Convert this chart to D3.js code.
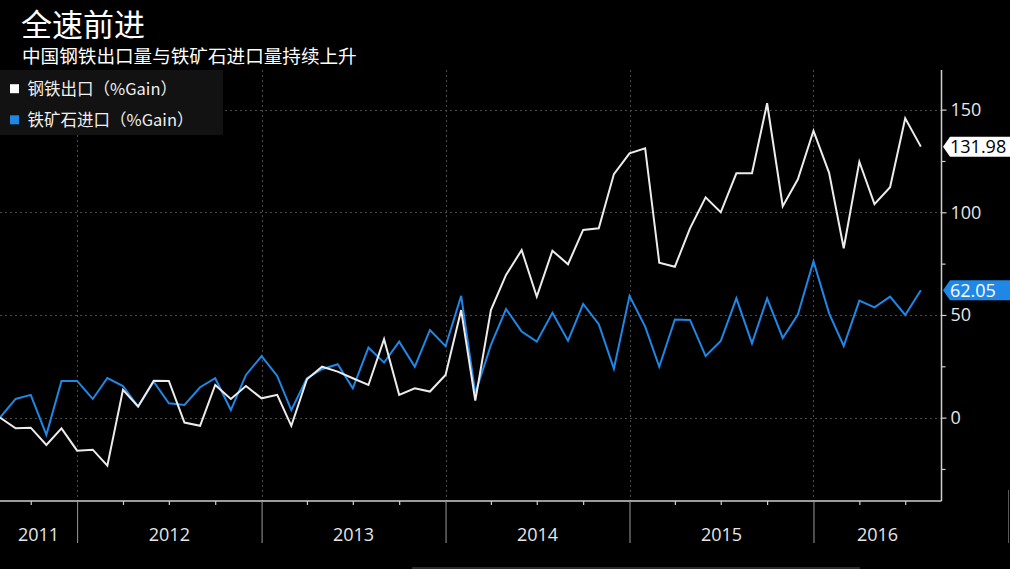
<!DOCTYPE html>
<html>
<head>
<meta charset="utf-8">
<script src="https://cdn.jsdelivr.net/npm/d3@7"></script>
<style>
  html, body { margin: 0; padding: 0; background: #000; }
  svg { display: block; }
  text { font-family: "Open Sans", "Noto Sans CJK SC", sans-serif; }
  .cjk { font-family: "Noto Sans CJK SC", "Open Sans", sans-serif; }
</style>
</head>
<body>
<svg id="chart" width="1010" height="569"></svg>
<script>
// ---------------- DATA ----------------
const title = "全速前进";
const subtitle = "中国钢铁出口量与铁矿石进口量持续上升";
const seriesNames = ["钢铁出口（%Gain）", "铁矿石进口（%Gain）"];

const months = [
  "2011-08","2011-09","2011-10","2011-11","2011-12",
  "2012-01","2012-02","2012-03","2012-04","2012-05","2012-06","2012-07","2012-08","2012-09","2012-10","2012-11","2012-12",
  "2013-01","2013-02","2013-03","2013-04","2013-05","2013-06","2013-07","2013-08","2013-09","2013-10","2013-11","2013-12",
  "2014-01","2014-02","2014-03","2014-04","2014-05","2014-06","2014-07","2014-08","2014-09","2014-10","2014-11","2014-12",
  "2015-01","2015-02","2015-03","2015-04","2015-05","2015-06","2015-07","2015-08","2015-09","2015-10","2015-11","2015-12",
  "2016-01","2016-02","2016-03","2016-04","2016-05","2016-06","2016-07","2016-08"
];

const steelExports = [
  0, -5.2, -4.9, -13.3, -5.2,
  -16.1, -15.6, -23.4, 13.5, 5.4, 18.0, 17.9, -2.4, -4.0, 15.9, 9.1, 15.4,
  9.4, 11.1, -4.0, 18.7, 24.8, 22.4, 19.2, 15.9, 38.2, 11.1, 14.3, 12.7,
  20.8, 52.4, 8.3, 52.4, 69.5, 81.6, 58.9, 81.3, 74.7, 91.4, 92.2, 118.6,
  128.7, 131.2, 75.5, 73.5, 92.2, 107.3, 100.0, 119.0, 119.0, 153.1, 103.0, 116.1,
  139.7, 119.2, 82.5, 124.6, 104.0, 112.2, 145.8, 131.98
];

const ironOreImports = [
  0, 9.1, 11.1, -8.4, 17.9,
  17.9, 9.1, 19.3, 15.4, 5.4, 17.5, 7.0, 6.2, 14.8, 19.2, 3.7, 20.8,
  30.0, 20.3, 3.7, 19.2, 23.6, 26.0, 14.3, 34.1, 26.8, 37.0, 24.8, 42.7,
  34.8, 59.3, 11.9, 35.4, 52.9, 41.9, 37.0, 51.1, 37.5, 55.4, 45.5, 23.8,
  59.3, 44.3, 24.8, 47.8, 47.6, 30.0, 37.3, 58.1, 36.2, 58.1, 38.8, 50.2,
  76.2, 50.8, 34.9, 57.0, 53.7, 58.9, 50.0, 62.05
];

const yTicksMajor = [0, 50, 100, 150];
const yTicksMinor = [-25, 25, 75, 125];
const yearLabels = ["2011", "2012", "2013", "2014", "2015", "2016"];

const colors = { steel: "#ececec", ore: "#1f87e6" };

// ---------------- LAYOUT ----------------
const svg = d3.select("#chart");
const W = 1010, H = 569;
const plot = { left: 0, right: 941.5, top: 70, bottom: 501 };

svg.append("rect").attr("width", W).attr("height", H).attr("fill", "#000");

const parse = d3.timeParse("%Y-%m");
const dates = months.map(parse);

const x = d3.scaleTime()
  .domain([parse("2011-08"), new Date(2016, 8, 11)])
  .range([plot.left, plot.right]);

const y = d3.scaleLinear()
  .domain([-40.6, 169.3])
  .range([plot.bottom, plot.top]);

// ---------------- GRID ----------------
const grid = svg.append("g").attr("stroke", "#4a4a4a").attr("stroke-width", 1)
  .attr("stroke-dasharray", "2,3");

grid.selectAll("line.h").data(yTicksMajor).join("line")
  .attr("x1", plot.left).attr("x2", plot.right)
  .attr("y1", d => Math.round(y(d)) + 0.5).attr("y2", d => Math.round(y(d)) + 0.5);

const yearStarts = d3.timeYear.range(new Date(2012, 0, 1), new Date(2017, 0, 1));
grid.selectAll("line.v").data(yearStarts).join("line")
  .attr("x1", d => Math.round(x(d)) + 0.5).attr("x2", d => Math.round(x(d)) + 0.5)
  .attr("y1", plot.top).attr("y2", plot.bottom);

// ---------------- LINES ----------------
const line = d3.line()
  .x((d, i) => x(dates[i]))
  .y(d => y(d));

svg.append("path").datum(ironOreImports)
  .attr("fill", "none").attr("stroke", colors.ore).attr("stroke-width", 2)
  .attr("stroke-linejoin", "miter").attr("d", line);

svg.append("path").datum(steelExports)
  .attr("fill", "none").attr("stroke", colors.steel).attr("stroke-width", 2)
  .attr("stroke-linejoin", "miter").attr("d", line);

// ---------------- RIGHT AXIS ----------------
const axisColor = "#cfcfcf";
svg.append("line")
  .attr("x1", plot.right).attr("x2", plot.right)
  .attr("y1", plot.top).attr("y2", plot.bottom)
  .attr("stroke", axisColor).attr("stroke-width", 1.5);

const yAxis = d3.axisRight(y).tickValues(yTicksMajor).tickSize(5).tickPadding(4)
  .tickFormat(d3.format("d"));
const yAxisG = svg.append("g").attr("transform", `translate(${plot.right},0)`).call(yAxis);
yAxisG.select(".domain").remove();
yAxisG.selectAll(".tick line").attr("stroke", axisColor).attr("stroke-width", 1.2);
yAxisG.selectAll(".tick text").attr("fill", "#e6e6e6").attr("font-size", 18)
  .attr("font-family", "'Open Sans', sans-serif");

const yMinor = d3.axisRight(y).tickValues(yTicksMinor).tickSize(4).tickFormat("");
const yMinorG = svg.append("g").attr("transform", `translate(${plot.right},0)`).call(yMinor);
yMinorG.select(".domain").remove();
yMinorG.selectAll(".tick line").attr("stroke", axisColor).attr("stroke-width", 1.2);

// ---------------- BOTTOM AXIS ----------------
svg.append("line")
  .attr("x1", 0).attr("x2", plot.right)
  .attr("y1", plot.bottom).attr("y2", plot.bottom)
  .attr("stroke", axisColor).attr("stroke-width", 1.5);

const quarterTicks = d3.timeMonth.every(3).range(new Date(2011, 9, 1), new Date(2016, 9, 1))
  .filter(d => d.getMonth() !== 0);
const xq = d3.axisBottom(x).tickValues(quarterTicks).tickSize(4).tickFormat("");
const xqG = svg.append("g").attr("transform", `translate(0,${plot.bottom})`).call(xq);
xqG.select(".domain").remove();
xqG.selectAll(".tick line").attr("stroke", axisColor).attr("stroke-width", 1.2);

const xy = d3.axisBottom(x).tickValues(yearStarts.filter(d => x(d) < plot.right))
  .tickSize(42).tickFormat("");
const xyG = svg.append("g").attr("transform", `translate(0,${plot.bottom})`).call(xy);
xyG.select(".domain").remove();
xyG.selectAll(".tick line").attr("stroke", "#9a9a9a").attr("stroke-width", 1);

// year labels centred in visible span of each year
const yearSpans = yearLabels.map(lbl => {
  const s = Math.max(x(new Date(+lbl, 0, 1)), plot.left);
  const e = Math.min(x(new Date(+lbl + 1, 0, 1)), plot.right);
  return { lbl, cx: (s + e) / 2 };
});
svg.selectAll("text.year").data(yearSpans).join("text")
  .attr("class", "year")
  .attr("x", d => d.cx).attr("y", 540.5)
  .attr("text-anchor", "middle")
  .attr("fill", "#e6e6e6").attr("font-size", 18)
  .text(d => d.lbl);

// stray frame lines
svg.append("line").attr("x1", 412).attr("x2", 860).attr("y1", 568).attr("y2", 568)
  .attr("stroke", "#3a3a3a").attr("stroke-width", 1.5);
svg.append("line").attr("x1", 1008.5).attr("x2", 1008.5).attr("y1", 490).attr("y2", 543)
  .attr("stroke", "#5a5a5a").attr("stroke-width", 1);

// ---------------- VALUE LABELS ----------------
function valueTag(val, fill, textFill) {
  const yc = y(val);
  const g = svg.append("g");
  const h = 10;
  g.append("path")
    .attr("d", `M${plot.right + 1.5},${yc} L${plot.right + 8.5},${yc - h} L${W},${yc - h} L${W},${yc + h} L${plot.right + 8.5},${yc + h} Z`)
    .attr("fill", fill);
  g.append("text")
    .attr("x", 950).attr("y", yc).attr("dy", "0.36em")
    .attr("fill", textFill).attr("font-size", 18)
    .text(d3.format(".2f")(val));
}
valueTag(steelExports[steelExports.length - 1], "#ffffff", "#000000");
valueTag(ironOreImports[ironOreImports.length - 1], colors.ore, "#ffffff");

// ---------------- LEGEND ----------------
const legend = svg.append("g");
legend.append("rect").attr("x", 0).attr("y", 70).attr("width", 223).attr("height", 65)
  .attr("fill", "#121212");
const legendItems = [
  { name: seriesNames[0], color: "#ffffff", cy: 88.7 },
  { name: seriesNames[1], color: colors.ore, cy: 119.8 }
];
legendItems.forEach(it => {
  legend.append("rect").attr("x", 10).attr("y", it.cy - 4.5).attr("width", 9).attr("height", 9)
    .attr("fill", it.color);
  legend.append("text").attr("class", "cjk")
    .attr("x", 27.5).attr("y", it.cy).attr("dy", "0.36em")
    .attr("fill", "#f0f0f0").attr("font-size", 16.5)
    .text(it.name);
});

// ---------------- TITLES ----------------
svg.append("text").attr("class", "cjk").attr("x", 21).attr("y", 36.2)
  .attr("fill", "#ffffff").attr("font-size", 31).text(title);
svg.append("text").attr("class", "cjk").attr("x", 22).attr("y", 63)
  .attr("fill", "#ffffff").attr("font-size", 18.6).text(subtitle);
</script>
</body>
</html>
